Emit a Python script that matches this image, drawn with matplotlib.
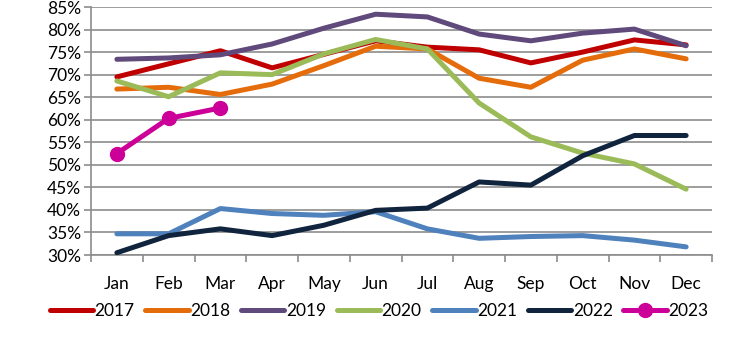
import matplotlib
matplotlib.use("Agg")
import matplotlib.pyplot as plt
from matplotlib.ticker import FixedLocator, FuncFormatter

plt.rcParams['font.family'] = ['Lato', 'DejaVu Sans']

months = ["Jan", "Feb", "Mar", "Apr", "May", "Jun",
          "Jul", "Aug", "Sep", "Oct", "Nov", "Dec"]

y2017 = [69.5, 72.4, 75.3, 71.5, 74.5, 77.5, 76.1, 75.5, 72.6, 75.0, 77.7, 76.6]
y2018 = [66.8, 67.2, 65.6, 67.9, 72.0, 76.3, 75.7, 69.2, 67.2, 73.2, 75.7, 73.5]
y2019 = [73.4, 73.7, 74.4, 76.8, 80.3, 83.4, 82.8, 79.0, 77.5, 79.2, 80.1, 76.4]
y2020 = [68.6, 65.1, 70.4, 70.0, 74.6, 77.8, 75.7, 63.7, 56.2, 52.6, 50.2, 44.6]
y2021 = [34.7, 34.7, 40.3, 39.2, 38.8, 39.6, 35.8, 33.7, 34.1, 34.3, 33.3, 31.8]
y2022 = [30.5, 34.3, 35.8, 34.3, 36.6, 39.9, 40.4, 46.2, 45.5, 52.0, 56.5, 56.5]
y2023 = [52.5, 60.3, 62.6]

series = [
    ("2017", y2017, "#C00000"),
    ("2018", y2018, "#E46C0A"),
    ("2019", y2019, "#604A7B"),
    ("2020", y2020, "#9BBB59"),
    ("2021", y2021, "#4F81BD"),
    ("2022", y2022, "#10243E"),
]

fig = plt.figure(figsize=(7.39, 3.37), dpi=100)
ax = fig.add_axes([91 / 739, 1 - 255 / 337, (712 - 91) / 739, (255 - 7) / 337])

x = list(range(len(months)))
lw = 3.6
for name, vals, color in series:
    ax.plot(x[:len(vals)], vals, color=color, lw=lw, label=name,
            solid_capstyle="round", solid_joinstyle="round", zorder=3)
ax.plot(x[:len(y2023)], y2023, color="#CC0099", lw=lw, marker="o",
        markersize=10, label="2023", solid_capstyle="round", zorder=4)

ax.set_xlim(-0.5, 11.5)
ax.set_ylim(30, 85)
ax.set_yticks(range(30, 86, 5))
ax.yaxis.set_major_formatter(FuncFormatter(lambda v, p: f"{int(v)}%"))
ax.xaxis.set_major_locator(FixedLocator([i - 0.5 for i in range(13)]))
ax.xaxis.set_minor_locator(FixedLocator(x))
ax.set_xticklabels([])
ax.set_xticklabels(months, minor=True)

ax.grid(axis="y", color="#8C8C8C", lw=1.2)
ax.set_axisbelow(True)
for s in ["top", "right"]:
    ax.spines[s].set_visible(False)
for s in ["left", "bottom"]:
    ax.spines[s].set_color("#8C8C8C")
    ax.spines[s].set_linewidth(1.2)

fs = 12.5
ax.tick_params(axis="y", which="major", length=5, color="#8C8C8C", width=1.2,
               labelsize=fs, pad=2)
ax.tick_params(axis="x", which="major", length=5, color="#8C8C8C", width=1.2,
               direction="out")
ax.tick_params(axis="x", which="minor", length=0, labelsize=fs, pad=15)

leg = fig.legend(loc="center", bbox_to_anchor=(379 / 739, 1 - 311 / 337),
                 ncol=7, frameon=False, fontsize=fs, handlelength=2.5,
                 handletextpad=0.1, columnspacing=0.6, borderaxespad=0)

fig.savefig("out.png", dpi=100)
